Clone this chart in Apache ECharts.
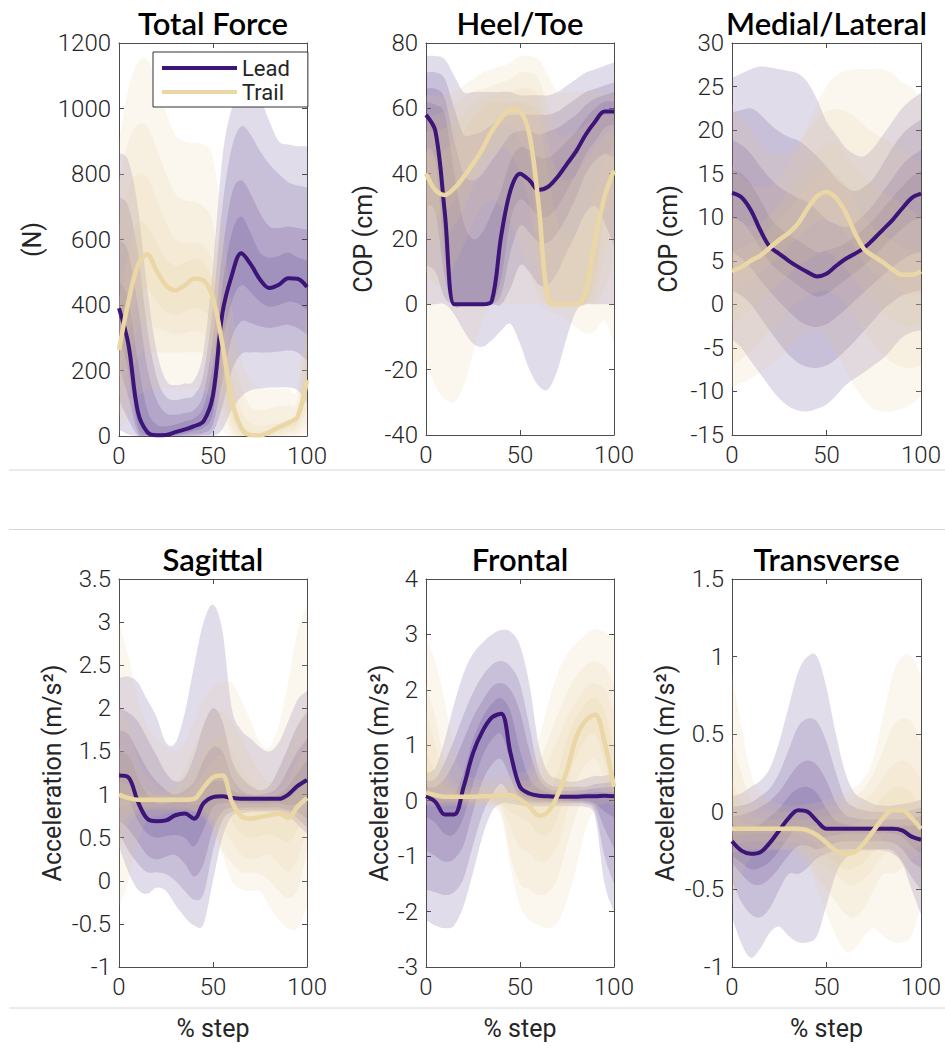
<!DOCTYPE html>
<html><head><meta charset="utf-8">
<script src="https://cdn.jsdelivr.net/npm/echarts@6/dist/echarts.min.js"></script>
<style>html,body{margin:0;padding:0;background:#fff}#c{width:945px;height:1048px}</style>
</head><body><div id="c"></div>
<script>
// ---------- shared x positions (% step) ----------
const X = [0,5,10,15,20,25,30,35,40,45,50,55,60,65,70,75,80,85,90,95,100];

// ---------- panel settings ----------
const TITLES = ['Total Force','Heel/Toe','Medial/Lateral','Sagittal','Frontal','Transverse'];
const Y_NAMES = ['(N)','COP (cm)','COP (cm)','Acceleration (m/s²)','Acceleration (m/s²)','Acceleration (m/s²)'];
const Y_MIN = [0,-40,-15,-1,-3,-1];
const Y_MAX = [1200,80,30,3.5,4,1.5];
const Y_STEP = [200,20,5,0.5,1,0.5];
const X_TICKS = [0,50,100];

// ---------- Total Force ----------
const tfLeadMed = [390,280,75,12,2,3,12,20,30,45,125,375,490,558,525,478,452,462,482,480,455];
const tfLeadHi = [
 [863,840,700,450,260,170,155,160,170,260,520,850,1000,1040,1040,1030,960,900,890,885,885],
 [730,700,560,330,180,120,110,115,125,190,400,700,880,945,920,870,830,800,775,765,760],
 [600,560,400,210,110,70,65,70,80,130,300,560,740,780,740,680,640,635,640,635,630],
 [470,420,230,80,35,30,35,45,55,90,220,460,620,670,620,560,545,550,560,545,537]];
const tfLeadLo = [
 [20,5,0,0,0,0,0,0,0,0,0,20,80,120,140,145,148,148,148,140,100],
 [110,50,2,0,0,0,0,0,0,3,12,90,200,250,255,255,255,258,262,255,230],
 [210,120,10,0,0,0,0,2,5,10,35,170,300,350,345,335,330,335,340,330,310],
 [310,200,30,3,0,0,3,8,15,25,70,280,410,460,440,410,395,400,410,405,385]];
const tfTrailMed = [263,410,520,555,505,460,445,460,480,475,420,280,110,25,3,2,12,27,40,60,171];
const tfTrailHi = [
 [900,1060,1140,1150,1080,990,920,900,895,890,850,650,400,240,170,150,145,145,145,150,400],
 [780,900,950,945,880,800,740,720,715,700,650,450,260,150,90,80,85,90,95,110,320],
 [640,760,800,790,720,650,600,590,590,580,530,370,180,80,40,30,35,40,50,70,260],
 [420,560,650,640,590,540,520,530,540,530,470,320,130,40,12,8,18,30,45,65,210]];
const tfTrailLo = [
 [10,60,120,140,145,148,148,148,148,140,100,20,0,0,0,0,0,0,0,0,5],
 [60,140,240,260,255,255,255,255,255,250,200,90,10,0,0,0,0,0,3,10,40],
 [120,220,330,350,330,320,310,315,320,310,260,140,30,0,0,0,0,5,12,25,80],
 [180,300,420,450,410,380,370,380,390,380,330,200,60,5,0,0,5,15,25,40,120]];

// ---------- Heel/Toe ----------
const htLeadMed = [58,53,28,0,0,0,0,1,21,35,40,38,35,36,39,43,47,52,56,59,59];
const htLeadHi = [
 [76,76,75,70,65,65,65,65,65,65,64,64,64,64,65,67,69,71,72,73,74],
 [71,71,69,60,52,52,53,55,57,58,58,58,58,58,59,61,63,65,66,67,68],
 [66,66,63,50,40,38,40,44,48,52,53,53,52,53,54,56,58,61,63,64,65],
 [62,61,58,40,25,20,22,28,35,44,48,47,45,45,47,50,53,57,60,62,62]];
const htLeadLo = [
 [0,0,0,-3,-8,-12,-13,-11,-8,-6,-12,-20,-25,-26,-20,-10,-2,0,0,0,0],
 [12,10,2,0,0,0,0,0,0,5,12,10,6,6,10,16,22,28,30,25,18],
 [30,28,8,0,0,0,0,0,3,16,24,22,19,19,22,27,33,40,44,46,45],
 [48,44,15,0,0,0,0,0,8,26,32,30,27,27,30,35,40,46,50,54,55]];
const htTrailMed = [40,35,33.5,35.5,39,43,47.5,53,57,59.5,59,52,30,1,0,0,0,4,20,33,41];
const htTrailHi = [
 [64,64,64,65,67,69,71,72,73,74,76,76,75,70,65,65,65,65,65,65,65],
 [58,58,59,61,63,65,66,67,68,69,71,71,69,60,52,52,53,55,57,58,58],
 [53,53,54,56,58,61,63,64,65,65,66,66,63,50,40,38,40,44,48,52,53],
 [47,45,47,50,53,57,60,62,62,62,62,61,58,40,25,20,22,28,35,44,48]];
const htTrailLo = [
 [-17,-25,-29,-30,-25,-15,-5,0,0,0,0,0,0,-2,-3,-5,-7,-9,-8,-5,-12],
 [10,6,7,12,18,25,30,32,30,25,18,10,2,0,0,0,0,0,0,5,12],
 [22,19,20,24,29,36,42,46,48,46,40,30,8,0,0,0,0,0,3,16,24],
 [30,27,28,32,37,43,48,52,54,55,50,44,15,0,0,0,0,0,8,26,32]];

// ---------- Medial/Lateral ----------
const mlLeadMed = [12.8,12.3,10.8,8.5,6.6,5.8,5.0,4.3,3.7,3.2,3.5,4.4,5.2,5.8,6.5,7.5,8.6,9.7,11,12.2,12.7];
const mlLeadHi = [
 [26,26.5,27,27.3,27.2,27,26.8,26.5,25.5,23.5,21,19.5,18,17.2,17,18,19.5,21,22.5,23.5,24.3],
 [22,22.3,22.5,21.8,20.7,19.8,19.2,18.8,18,17,15.8,14.5,13.5,13,13.5,14.5,16.2,18,19.5,20.5,21.2],
 [18.9,18.3,17.3,15.8,14.5,13.5,12.8,12.2,11.7,10.8,9.7,9.2,8.9,9.3,10.3,11.5,13,14.5,16,17,17.7],
 [15.5,15,13.8,12,10,8.8,8,7.3,6.6,6,6.2,6.5,7,7.8,8.7,9.7,11,12.3,13.5,14.6,15.3]];
const mlLeadLo = [
 [-4,-5,-6.5,-8,-9.5,-10.8,-11.7,-12.2,-12.3,-12,-11.5,-10.5,-9.3,-8.5,-7.8,-7,-6.2,-5,-3.8,-3.2,-3],
 [1.6,1,0,-1.5,-3,-4.5,-5.8,-6.7,-7.2,-7.3,-7,-6.3,-5.3,-4.2,-3,-1.8,-0.6,0.3,1,1.4,1.6],
 [6,5.3,4.2,2.8,1.5,0.3,-0.8,-1.8,-2.4,-2.6,-2.3,-1.5,-0.6,0.4,1.4,2.4,3.4,4.3,5.1,5.7,6],
 [10,9.5,8.2,6.5,4.8,3.8,3,2.2,1.4,0.9,1.2,2,2.8,3.6,4.5,5.5,6.6,7.7,8.7,9.5,10]];
const mlTrailMed = [3.8,4.3,5.0,5.6,6.5,7.4,8.2,9.3,11,12.4,12.9,12.2,10.6,8.2,6.3,5.5,4.8,4.0,3.4,3.4,3.8];
const mlTrailHi = [
 [23,21.5,20,18.5,17.5,17.2,17.5,18.5,20.5,23,25,26.3,26.8,27,27,27,27,26.5,25.5,25,23.5],
 [16,14.8,13.8,13.3,13.6,14.6,16.2,18,19.8,21.2,22.2,22.4,22.2,21.5,20.5,19.7,19,18.5,17.8,17,16.2],
 [10,9.4,9,9.3,10.3,11.5,13,14.5,16,17.3,18.5,18.3,17.2,15.8,14.5,13.5,12.8,12.2,11.5,10.8,10],
 [6.2,6.5,7,7.8,8.7,9.7,11,12.3,13.6,14.8,15.5,15,13.8,12,10,8.8,8,7.3,6.6,6.2,6.2]];
const mlTrailLo = [
 [-9.5,-9,-8.5,-7.8,-7,-6.2,-5,-3.8,-3.2,-3,-4,-5.5,-7.5,-9.5,-11,-12,-12.3,-12.3,-12,-11.5,-10.5],
 [-7,-6.3,-5.3,-4.2,-3,-1.8,-0.6,0.3,1,1.4,1.6,1,0,-1.5,-3,-4.5,-5.8,-6.7,-7.2,-7.3,-7],
 [-2.3,-1.5,-0.6,0.4,1.4,2.4,3.4,4.3,5.1,5.7,6,5.3,4.2,2.8,1.5,0.3,-0.8,-1.8,-2.4,-2.5,-2.3],
 [1.2,2,2.8,3.6,4.5,5.5,6.6,7.7,8.7,9.5,10,9.5,8.2,6.5,4.8,3.8,3,2.2,1.4,1,1.2]];

// ---------- Sagittal ----------
const sgLeadMed = [1.22,1.2,0.92,0.72,0.69,0.7,0.76,0.78,0.72,0.9,0.97,0.98,0.96,0.95,0.95,0.95,0.95,0.95,1.0,1.1,1.17];
const sgLeadHi = [
 [2.35,2.37,2.3,2.1,1.9,1.6,1.6,1.95,2.5,3.0,3.2,2.9,2.0,1.75,1.65,1.55,1.5,1.6,1.85,2.1,2.2],
 [2.0,1.95,1.85,1.65,1.45,1.25,1.15,1.2,1.45,1.8,2.0,1.85,1.4,1.2,1.1,1.05,1.1,1.3,1.55,1.8,1.95],
 [1.75,1.7,1.5,1.3,1.15,1.05,1.0,1.05,1.15,1.4,1.55,1.5,1.2,1.05,1.0,1.0,1.02,1.1,1.3,1.5,1.65],
 [1.5,1.45,1.2,1.0,0.9,0.9,0.92,0.95,0.95,1.05,1.15,1.15,1.05,1.0,0.98,0.98,0.98,1.0,1.1,1.25,1.4]];
const sgLeadLo = [
 [0.4,0.1,-0.1,-0.15,-0.08,-0.12,-0.28,-0.42,-0.52,-0.5,0.0,0.5,0.75,0.78,0.8,0.8,0.8,0.8,0.75,0.65,0.55],
 [0.55,0.35,0.2,0.1,0.1,0.08,0.0,-0.12,-0.22,-0.15,0.35,0.7,0.8,0.82,0.82,0.82,0.82,0.82,0.8,0.72,0.62],
 [0.7,0.6,0.45,0.3,0.25,0.28,0.3,0.2,0.05,0.2,0.6,0.8,0.85,0.85,0.85,0.85,0.85,0.85,0.82,0.8,0.72],
 [1.0,0.95,0.7,0.55,0.5,0.52,0.53,0.5,0.4,0.6,0.85,0.9,0.9,0.9,0.9,0.9,0.9,0.9,0.88,0.9,0.95]];
const sgTrailMed = [1.0,0.96,0.94,0.94,0.94,0.94,0.94,0.94,0.95,1.08,1.2,1.22,0.92,0.75,0.72,0.74,0.76,0.78,0.73,0.86,0.96];
const sgTrailHi = [
 [3.0,2.6,2.1,1.8,1.65,1.55,1.5,1.6,1.85,2.1,2.25,2.3,2.3,2.1,1.85,1.6,1.55,1.8,2.3,2.9,3.2],
 [2.0,1.8,1.4,1.2,1.1,1.05,1.1,1.3,1.55,1.8,1.95,1.95,1.85,1.65,1.45,1.25,1.15,1.2,1.45,1.8,2.0],
 [1.55,1.45,1.2,1.05,1.0,1.0,1.02,1.1,1.3,1.5,1.65,1.7,1.5,1.3,1.15,1.05,1.0,1.05,1.15,1.4,1.55],
 [1.15,1.1,1.02,1.0,0.98,0.98,0.98,1.0,1.1,1.25,1.4,1.45,1.2,1.0,0.9,0.9,0.92,0.95,0.95,1.05,1.15]];
const sgTrailLo = [
 [-0.3,0.0,0.45,0.7,0.75,0.78,0.8,0.8,0.8,0.75,0.6,0.3,0.0,-0.1,-0.12,-0.12,-0.3,-0.45,-0.55,-0.55,-0.3],
 [0.35,0.65,0.78,0.82,0.82,0.82,0.82,0.82,0.8,0.72,0.62,0.35,0.2,0.1,0.1,0.08,0.0,-0.12,-0.2,-0.1,0.35],
 [0.6,0.75,0.82,0.85,0.85,0.85,0.85,0.85,0.82,0.8,0.72,0.6,0.45,0.3,0.25,0.28,0.3,0.2,0.1,0.25,0.6],
 [0.85,0.88,0.9,0.9,0.9,0.9,0.9,0.9,0.88,0.9,0.95,0.95,0.7,0.55,0.5,0.52,0.53,0.5,0.45,0.6,0.85]];

// ---------- Frontal ----------
const frLeadMed = [0.08,-0.02,-0.25,-0.25,0.25,0.86,1.25,1.5,1.57,0.85,0.25,0.13,0.09,0.08,0.07,0.07,0.07,0.08,0.08,0.09,0.08];
const frLeadHi = [
 [0.5,0.6,1.1,1.75,2.3,2.65,2.85,3.0,3.08,3.05,2.8,2.1,1.0,0.5,0.4,0.35,0.35,0.4,0.45,0.45,0.5],
 [0.35,0.4,0.7,1.1,1.55,1.95,2.25,2.45,2.52,2.42,2.1,1.35,0.55,0.3,0.25,0.25,0.25,0.25,0.3,0.32,0.35],
 [0.25,0.25,0.4,0.7,1.1,1.5,1.8,2.05,2.12,2.0,1.6,0.9,0.4,0.22,0.18,0.18,0.18,0.2,0.22,0.24,0.25],
 [0.15,0.12,0.05,0.1,0.5,1.1,1.5,1.75,1.85,1.6,0.9,0.4,0.22,0.15,0.12,0.12,0.12,0.14,0.15,0.15,0.15]];
const frLeadLo = [
 [-2.15,-2.25,-2.3,-2.25,-1.9,-1.3,-0.65,-0.2,-0.05,-0.05,-0.08,-0.1,-0.1,-0.1,-0.1,-0.1,-0.1,-0.12,-0.3,-1.5,-2.0],
 [-1.6,-1.65,-1.7,-1.65,-1.4,-0.8,-0.25,0.1,0.3,0.1,-0.03,-0.05,-0.05,-0.05,-0.05,-0.05,-0.05,-0.06,-0.2,-1.0,-1.5],
 [-0.9,-1.0,-1.1,-1.05,-0.8,-0.2,0.35,0.65,0.75,0.4,0.05,0.0,-0.02,-0.02,-0.02,-0.02,-0.02,-0.03,-0.1,-0.5,-0.85],
 [-0.3,-0.4,-0.6,-0.6,-0.3,0.3,0.8,1.1,1.2,0.7,0.15,0.05,0.02,0.0,0.0,0.0,0.0,0.0,-0.05,-0.2,-0.3]];
const frTrailMed = [0.15,0.1,0.07,0.07,0.07,0.07,0.08,0.08,0.1,0.1,0.02,-0.1,-0.27,-0.2,0.1,0.55,1.15,1.45,1.55,1.05,0.25];
const frTrailHi = [
 [2.95,2.5,1.8,0.9,0.5,0.42,0.38,0.38,0.42,0.45,0.5,0.6,1.1,1.75,2.3,2.65,2.85,3.0,3.1,3.05,2.95],
 [2.1,1.5,0.7,0.35,0.28,0.25,0.25,0.25,0.28,0.3,0.35,0.4,0.7,1.1,1.55,1.95,2.25,2.45,2.52,2.42,2.1],
 [1.6,1.0,0.45,0.25,0.2,0.18,0.18,0.2,0.22,0.24,0.25,0.25,0.4,0.7,1.1,1.5,1.8,2.05,2.12,2.0,1.6],
 [0.9,0.5,0.25,0.17,0.13,0.12,0.12,0.14,0.15,0.15,0.15,0.12,0.05,0.1,0.5,1.1,1.5,1.75,1.85,1.6,0.9]];
const frTrailLo = [
 [-0.08,-0.1,-0.1,-0.1,-0.1,-0.1,-0.1,-0.12,-0.3,-1.2,-1.9,-2.15,-2.25,-2.3,-2.2,-1.8,-1.2,-0.5,-0.15,-0.05,-0.08],
 [-0.03,-0.05,-0.05,-0.05,-0.05,-0.05,-0.05,-0.06,-0.2,-1.0,-1.5,-1.6,-1.7,-1.65,-1.4,-0.8,-0.25,0.1,0.3,0.1,-0.03],
 [0.05,0.0,-0.02,-0.02,-0.02,-0.02,-0.02,-0.03,-0.1,-0.5,-0.85,-0.95,-1.1,-1.05,-0.8,-0.2,0.35,0.65,0.75,0.4,0.05],
 [0.1,0.05,0.02,0.0,0.0,0.0,0.0,0.0,-0.05,-0.2,-0.3,-0.4,-0.6,-0.6,-0.3,0.3,0.8,1.1,1.2,0.7,0.1]];

// ---------- Transverse ----------
const trLeadMed = [-0.19,-0.25,-0.27,-0.26,-0.2,-0.12,-0.04,0.01,0.0,-0.06,-0.11,-0.11,-0.11,-0.11,-0.11,-0.11,-0.11,-0.11,-0.12,-0.16,-0.18];
const trLeadHi = [
 [0.1,0.12,0.16,0.2,0.28,0.45,0.68,0.9,1.0,1.0,0.8,0.5,0.25,0.12,0.08,0.05,0.04,0.04,0.05,0.06,0.08],
 [0.03,0.04,0.06,0.1,0.15,0.25,0.4,0.55,0.6,0.58,0.45,0.25,0.08,0.03,0.01,0.0,0.0,0.0,0.0,0.01,0.03],
 [-0.03,-0.02,0.0,0.03,0.07,0.13,0.22,0.3,0.33,0.3,0.2,0.06,-0.02,-0.04,-0.05,-0.05,-0.05,-0.05,-0.05,-0.04,-0.03],
 [-0.08,-0.1,-0.1,-0.08,-0.03,0.02,0.1,0.15,0.16,0.12,0.02,-0.06,-0.08,-0.09,-0.09,-0.09,-0.09,-0.09,-0.09,-0.09,-0.08]];
const trLeadLo = [
 [-0.68,-0.85,-0.94,-0.88,-0.78,-0.74,-0.8,-0.84,-0.84,-0.8,-0.6,-0.4,-0.3,-0.26,-0.25,-0.25,-0.25,-0.27,-0.33,-0.5,-0.66],
 [-0.45,-0.58,-0.66,-0.68,-0.62,-0.5,-0.4,-0.4,-0.36,-0.3,-0.27,-0.25,-0.24,-0.24,-0.24,-0.24,-0.24,-0.25,-0.32,-0.42,-0.5],
 [-0.33,-0.4,-0.46,-0.47,-0.43,-0.36,-0.28,-0.22,-0.22,-0.24,-0.22,-0.2,-0.19,-0.19,-0.19,-0.19,-0.19,-0.2,-0.24,-0.32,-0.36],
 [-0.28,-0.33,-0.37,-0.36,-0.32,-0.25,-0.16,-0.1,-0.12,-0.15,-0.16,-0.15,-0.14,-0.14,-0.14,-0.14,-0.14,-0.14,-0.16,-0.22,-0.27]];
const trTrailMed = [-0.11,-0.11,-0.11,-0.11,-0.11,-0.11,-0.11,-0.11,-0.12,-0.15,-0.2,-0.25,-0.27,-0.26,-0.2,-0.12,-0.04,0.01,0.01,-0.04,-0.11];
const trTrailHi = [
 [0.88,0.55,0.25,0.12,0.08,0.05,0.04,0.04,0.05,0.06,0.08,0.1,0.12,0.16,0.22,0.35,0.62,0.88,1.0,1.0,0.88],
 [0.45,0.25,0.08,0.03,0.01,0.0,0.0,0.0,0.0,0.01,0.03,0.04,0.06,0.1,0.15,0.25,0.4,0.55,0.6,0.58,0.45],
 [0.2,0.06,-0.02,-0.04,-0.05,-0.05,-0.05,-0.05,-0.05,-0.04,-0.03,-0.02,0.0,0.03,0.07,0.13,0.22,0.3,0.33,0.3,0.2],
 [0.02,-0.06,-0.08,-0.09,-0.09,-0.09,-0.09,-0.09,-0.09,-0.09,-0.1,-0.1,-0.1,-0.08,-0.03,0.02,0.1,0.15,0.16,0.12,0.02]];
const trTrailLo = [
 [-0.6,-0.4,-0.3,-0.26,-0.25,-0.25,-0.25,-0.27,-0.33,-0.5,-0.66,-0.8,-0.9,-0.88,-0.8,-0.75,-0.8,-0.84,-0.84,-0.8,-0.6],
 [-0.27,-0.25,-0.24,-0.24,-0.24,-0.24,-0.24,-0.25,-0.32,-0.42,-0.5,-0.58,-0.66,-0.68,-0.62,-0.5,-0.4,-0.4,-0.36,-0.3,-0.27],
 [-0.22,-0.2,-0.19,-0.19,-0.19,-0.19,-0.19,-0.2,-0.24,-0.32,-0.36,-0.4,-0.46,-0.47,-0.43,-0.36,-0.28,-0.22,-0.22,-0.24,-0.22],
 [-0.16,-0.15,-0.14,-0.14,-0.14,-0.14,-0.14,-0.14,-0.16,-0.22,-0.28,-0.33,-0.37,-0.36,-0.32,-0.25,-0.16,-0.1,-0.12,-0.15,-0.16]];

const LEAD_MED = [tfLeadMed, htLeadMed, mlLeadMed, sgLeadMed, frLeadMed, trLeadMed];
const LEAD_HI = [tfLeadHi, htLeadHi, mlLeadHi, sgLeadHi, frLeadHi, trLeadHi];
const LEAD_LO = [tfLeadLo, htLeadLo, mlLeadLo, sgLeadLo, frLeadLo, trLeadLo];
const TRAIL_MED = [tfTrailMed, htTrailMed, mlTrailMed, sgTrailMed, frTrailMed, trTrailMed];
const TRAIL_HI = [tfTrailHi, htTrailHi, mlTrailHi, sgTrailHi, frTrailHi, trTrailHi];
const TRAIL_LO = [tfTrailLo, htTrailLo, mlTrailLo, sgTrailLo, frTrailLo, trTrailLo];

// ---------- layout & style ----------
const GRID_LEFT = [119,426,732,119,426,732];
const GRID_TOP = [43,43,43,579,579,579];
const GRID_W = [188,188,189,188,188,189];
const GRID_H = [393,392,392,388,388,388];
const NAME_GAP = [74,50,51,54,34,54];
const TITLE_Y = [23,23,23,559,559,559];
const LEAD_COLOR = '#3d1477';
const TRAIL_COLOR = '#ead7a5';
const LEAD_BAND = 'rgb(75,46,131)';
const TRAIL_BAND = 'rgb(226,203,150)';
const AX = '#4d4d4d';
const TXT = '#262626';
const FONT = 'Roboto';

const grids = [], xAxes = [], yAxes = [], series = [];
for (let p = 0; p < 6; p++) {
  grids.push({left: GRID_LEFT[p], top: GRID_TOP[p], width: GRID_W[p], height: GRID_H[p], containLabel: false});
  const tick = {show: true, inside: true, length: 5, lineStyle: {color: AX, width: 1}};
  const line = {show: true, onZero: false, lineStyle: {color: AX, width: 1}};
  const lab = {margin: 8, fontFamily: FONT, fontSize: 24, fontWeight: 300, color: TXT, formatter: v => String(v)};
  xAxes.push({gridIndex: p, type: 'value', position: 'bottom', min: X_TICKS[0], max: X_TICKS[2], interval: X_TICKS[1] - X_TICKS[0],
    axisLine: line, axisTick: tick, splitLine: {show: false}, axisLabel: lab});
  xAxes.push({gridIndex: p, type: 'value', position: 'top', min: X_TICKS[0], max: X_TICKS[2], interval: X_TICKS[1] - X_TICKS[0],
    axisLine: line, axisTick: tick, splitLine: {show: false}, axisLabel: {show: false}});
  yAxes.push({gridIndex: p, type: 'value', position: 'left', min: Y_MIN[p], max: Y_MAX[p], interval: Y_STEP[p],
    axisLine: line, axisTick: tick, splitLine: {show: false}, axisLabel: lab,
    name: Y_NAMES[p], nameLocation: 'middle', nameGap: NAME_GAP[p],
    nameTextStyle: {fontFamily: FONT, fontSize: 25, color: TXT}});
  yAxes.push({gridIndex: p, type: 'value', position: 'right', min: Y_MIN[p], max: Y_MAX[p], interval: Y_STEP[p],
    axisLine: line, axisTick: tick, splitLine: {show: false}, axisLabel: {show: false}});
}

// smooth path (Catmull-Rom rendered as cubic Bezier) through pixel points from the axes
function curveTo(pts) {
  let d = '';
  for (let i = 0; i < pts.length - 1; i++) {
    const p0 = pts[Math.max(i - 1, 0)], p1 = pts[i], p2 = pts[i + 1], p3 = pts[Math.min(i + 2, pts.length - 1)];
    const c1x = p1[0] + (p2[0] - p0[0]) / 6, c1y = p1[1] + (p2[1] - p0[1]) / 6;
    const c2x = p2[0] - (p3[0] - p1[0]) / 6, c2y = p2[1] - (p3[1] - p1[1]) / 6;
    d += ' C' + c1x.toFixed(2) + ',' + c1y.toFixed(2) + ' ' + c2x.toFixed(2) + ',' + c2y.toFixed(2) + ' ' + p2[0].toFixed(2) + ',' + p2[1].toFixed(2);
  }
  return d;
}
function bandSeries(p, lo, hi, color, alpha) {
  return {
    type: 'custom', name: 'band', xAxisIndex: 2 * p, yAxisIndex: 2 * p, silent: true, clip: true, z: 1,
    data: [[X[0], lo[0]]],
    renderItem: function (params, api) {
      const up = X.map((x, i) => api.coord([x, hi[i]]));
      const dn = X.map((x, i) => api.coord([x, lo[i]])).reverse();
      const d = 'M' + up[0][0].toFixed(2) + ',' + up[0][1].toFixed(2) + curveTo(up) +
        ' L' + dn[0][0].toFixed(2) + ',' + dn[0][1].toFixed(2) + curveTo(dn) + ' Z';
      return {type: 'path', shape: {pathData: d}, style: {fill: color, opacity: alpha, stroke: null}};
    }
  };
}
for (let p = 0; p < 6; p++) {
  for (let k = 0; k < 4; k++) series.push(bandSeries(p, LEAD_LO[p][k], LEAD_HI[p][k], LEAD_BAND, 0.17));
  for (let k = 0; k < 4; k++) series.push(bandSeries(p, TRAIL_LO[p][k], TRAIL_HI[p][k], TRAIL_BAND, 0.15));
}
for (let p = 0; p < 6; p++) {
  series.push({type: 'line', name: 'Lead', xAxisIndex: 2 * p, yAxisIndex: 2 * p,
    data: X.map((x, i) => [x, LEAD_MED[p][i]]), symbol: 'none', smooth: 0.35,
    lineStyle: {color: LEAD_COLOR, width: 4}, itemStyle: {color: LEAD_COLOR}, z: 3});
}
for (let p = 0; p < 6; p++) {
  series.push({type: 'line', name: 'Trail', xAxisIndex: 2 * p, yAxisIndex: 2 * p,
    data: X.map((x, i) => [x, TRAIL_MED[p][i]]), symbol: 'none', smooth: 0.35,
    lineStyle: {color: TRAIL_COLOR, width: 4.5}, itemStyle: {color: TRAIL_COLOR}, z: 4});
}

const graphic = [];
[470, 529.5, 1008].forEach(y => graphic.push({type: 'line', shape: {x1: 9, y1: y, x2: 945, y2: y},
  style: {stroke: '#d6d6d6', lineWidth: 1}, silent: true}));
for (let p = 0; p < 6; p++) {
  graphic.push({type: 'text', x: GRID_LEFT[p] + GRID_W[p] / 2, y: TITLE_Y[p],
    style: {text: TITLES[p], fontFamily: 'Lato', fontSize: 31, fontWeight: 600, fill: '#000', align: 'center', verticalAlign: 'middle'}});
}
for (let p = 3; p < 6; p++) {
  graphic.push({type: 'text', x: GRID_LEFT[p] + GRID_W[p] / 2, y: 1028,
    style: {text: '% step', fontFamily: FONT, fontSize: 25, fill: TXT, align: 'center', verticalAlign: 'middle'}});
}

const chart = echarts.init(document.getElementById('c'), null, {renderer: 'svg', width: 945, height: 1048});
chart.setOption({
  animation: false,
  backgroundColor: '#fff',
  grid: grids, xAxis: xAxes, yAxis: yAxes, series: series, graphic: graphic,
  legend: {data: ['Lead', 'Trail'], left: 153, top: 52, orient: 'vertical', icon: 'rect',
    itemWidth: 75, itemHeight: 4, itemGap: 2, padding: [5, 18, 4, 9], selectedMode: false,
    backgroundColor: '#fff', borderColor: '#333', borderWidth: 1,
    textStyle: {fontFamily: FONT, fontSize: 22, color: TXT}}
});
</script>
</body></html>
